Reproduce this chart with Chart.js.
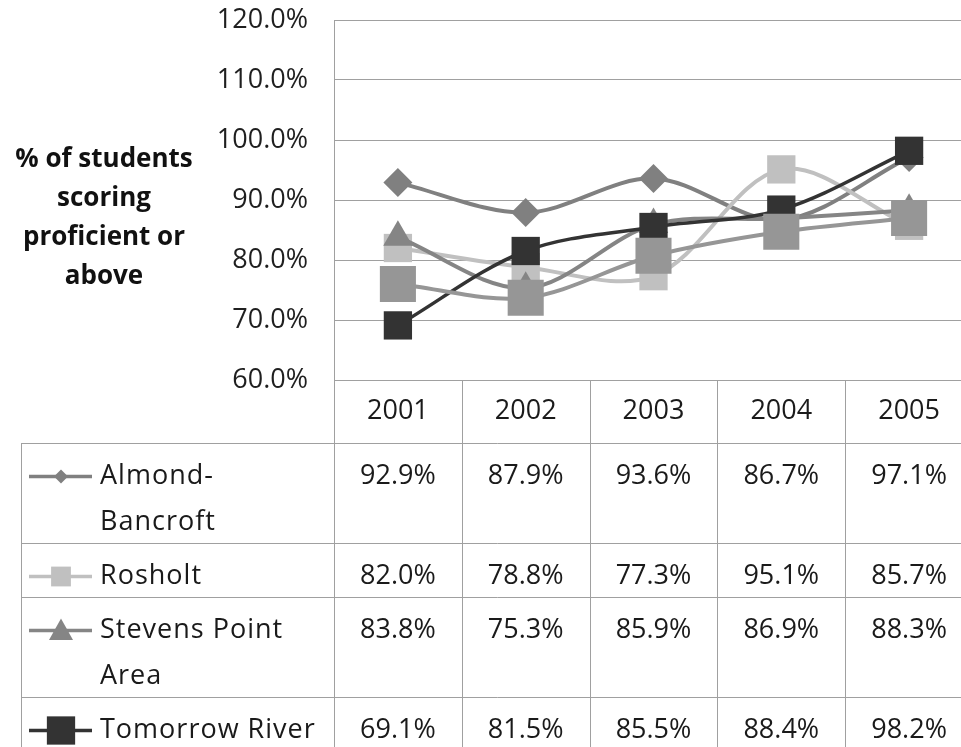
<!DOCTYPE html>
<html>
<head>
<meta charset="utf-8">
<script src="https://cdn.jsdelivr.net/npm/chart.js@4.4.0/dist/chart.umd.min.js"></script>
<style>
  html, body { margin: 0; padding: 0; background: #fff; overflow: hidden; }
  canvas { display: block; }
</style>
</head>
<body>
<canvas id="chart" width="975" height="747"></canvas>
<script>
// --- data ---
const years = ['2001', '2002', '2003', '2004', '2005'];
const seriesNames = ['Almond-Bancroft', 'Rosholt', 'Stevens Point Area', 'Tomorrow River', 'Statewide'];
const almondBancroft = [92.9, 87.9, 93.6, 86.7, 97.1];
const rosholt = [82.0, 78.8, 77.3, 95.1, 85.7];
const stevensPointArea = [83.8, 75.3, 85.9, 86.9, 88.3];
const tomorrowRiver = [69.1, 81.5, 85.5, 88.4, 98.2];
const statewide = [76.0, 73.7, 80.7, 84.7, 87.0];
const yMin = 60, yMax = 120, yStep = 10;
const yTitleLines = ['% of students', 'scoring', 'proficient or', 'above'];

const seriesValues = [almondBancroft, rosholt, stevensPointArea, tomorrowRiver, statewide];

// --- looks ---
const FONT = '"Open Sans", sans-serif';
const GRID = '#a0a0a0';
const styles = [
  { color: '#808080', point: 'rectRot', radius: 14.5, legend: 7, width: 4 },
  { color: '#c0c0c0', point: 'rect', radius: 20, legend: 14, width: 4 },
  { color: '#858585', point: 'triangle', radius: 17, legend: 12, width: 4 },
  { color: '#333333', point: 'rect', radius: 20, legend: 20, width: 3.5 },
  { color: '#969696', point: 'rect', radius: 25.5, legend: 20, width: 4 }
];

function fmt(v) { return v.toFixed(1) + '%'; }

function wrapLabel(ctx, text, maxWidth) {
  const parts = text.match(/[^\s-]+-?/g);
  const lines = [];
  let line = '';
  parts.forEach(p => {
    const test = line ? (line.endsWith('-') ? line + p : line + ' ' + p) : p;
    if (line && ctx.measureText(test).width > maxWidth) { lines.push(line); line = p; }
    else line = test;
  });
  if (line) lines.push(line);
  return lines;
}

function drawMarker(ctx, kind, cx, cy, r) {
  ctx.beginPath();
  if (kind === 'rect') {
    const h = r * Math.SQRT1_2;
    ctx.rect(cx - h, cy - h, 2 * h, 2 * h);
  } else if (kind === 'rectRot') {
    ctx.moveTo(cx, cy - r); ctx.lineTo(cx + r, cy); ctx.lineTo(cx, cy + r); ctx.lineTo(cx - r, cy);
    ctx.closePath();
  } else {
    ctx.moveTo(cx, cy - r); ctx.lineTo(cx + r, cy + r * 0.8); ctx.lineTo(cx - r, cy + r * 0.8);
    ctx.closePath();
  }
  ctx.fill();
}

// y title on the left plus the data table under the plot
const tablePlugin = {
  id: 'dataTable',
  afterDraw(chart) {
    const ctx = chart.ctx;
    const xs = chart.scales.x;
    const area = chart.chartArea;
    const half = xs.width / years.length / 2;
    const headerBottom = 443;
    const tableLeft = 21;
    const labelX = 100;
    const lineH = 46;

    ctx.save();
    // axis title
    ctx.fillStyle = '#111';
    ctx.font = 'bold 26px ' + FONT;
    ctx.textAlign = 'center';
    ctx.textBaseline = 'middle';
    yTitleLines.forEach((t, i) => ctx.fillText(t, 104, 160 + i * 39));

    ctx.font = '27px ' + FONT;
    ctx.letterSpacing = '1px';
    const rows = seriesNames.map(n => wrapLabel(ctx, n, 228));
    const tops = [];
    let y = headerBottom;
    rows.forEach(r => { tops.push(y); y += 8 + lineH * r.length; });
    const bottom = y;

    // grid of the table
    ctx.strokeStyle = GRID;
    ctx.lineWidth = 1;
    ctx.beginPath();
    years.forEach((_, i) => {
      const bx = Math.round(xs.getPixelForValue(i) - half) + 0.5;
      ctx.moveTo(bx, area.bottom); ctx.lineTo(bx, bottom);
    });
    const rx = Math.round(xs.getPixelForValue(years.length - 1) + half) + 0.5;
    ctx.moveTo(rx, area.bottom); ctx.lineTo(rx, bottom);
    tops.concat([bottom]).forEach(t => {
      ctx.moveTo(tableLeft, Math.round(t) + 0.5); ctx.lineTo(rx, Math.round(t) + 0.5);
    });
    ctx.moveTo(tableLeft + 0.5, headerBottom); ctx.lineTo(tableLeft + 0.5, bottom);
    ctx.stroke();

    // header
    ctx.fillStyle = '#1a1a1a';
    ctx.textAlign = 'center';
    ctx.letterSpacing = '0px';
    years.forEach((yr, i) => ctx.fillText(yr, xs.getPixelForValue(i), (area.bottom + headerBottom) / 2));

    // rows
    rows.forEach((lines, s) => {
      const cy = tops[s] + 33.5;
      const st = styles[s];
      ctx.strokeStyle = st.color;
      ctx.lineWidth = 3.5;
      ctx.beginPath(); ctx.moveTo(29, cy); ctx.lineTo(92, cy); ctx.stroke();
      ctx.fillStyle = st.color;
      drawMarker(ctx, st.point, 61, cy, st.legend);

      ctx.fillStyle = '#1a1a1a';
      ctx.textAlign = 'left';
      ctx.letterSpacing = '1px';
      lines.forEach((ln, k) => ctx.fillText(ln, labelX, cy + k * lineH));
      ctx.textAlign = 'center';
      ctx.letterSpacing = '0px';
      seriesValues[s].forEach((v, i) => ctx.fillText(fmt(v), xs.getPixelForValue(i), cy));
    });
    ctx.restore();
  }
};

const datasets = seriesNames.map((name, i) => ({
  label: name,
  data: seriesValues[i],
  borderColor: styles[i].color,
  backgroundColor: styles[i].color,
  borderWidth: styles[i].width,
  pointStyle: styles[i].point,
  pointRadius: styles[i].radius,
  pointBackgroundColor: styles[i].color,
  pointBorderWidth: 0,
  tension: 0.33,
  fill: false,
  order: seriesNames.length - i
}));

new Chart(document.getElementById('chart'), {
  type: 'line',
  data: { labels: years, datasets: datasets },
  options: {
    responsive: false,
    devicePixelRatio: 1,
    animation: false,
    events: [],
    layout: { autoPadding: false, padding: { top: 20, right: 2, bottom: 367, left: 0 } },
    scales: {
      x: { type: 'category', offset: true, display: false },
      y: {
        min: yMin,
        max: yMax,
        afterFit(scale) {
          scale.width = 334;
          scale.paddingTop = 0;
          scale.paddingBottom = 0;
        },
        ticks: {
          stepSize: yStep,
          padding: 26,
          color: '#1f1f1f',
          font: { family: FONT, size: 27 },
          callback: v => fmt(v)
        },
        grid: { color: GRID, drawTicks: false, lineWidth: 1 },
        border: { color: GRID }
      }
    },
    plugins: { legend: { display: false }, tooltip: { enabled: false } }
  },
  plugins: [tablePlugin]
});
</script>
</body>
</html>
